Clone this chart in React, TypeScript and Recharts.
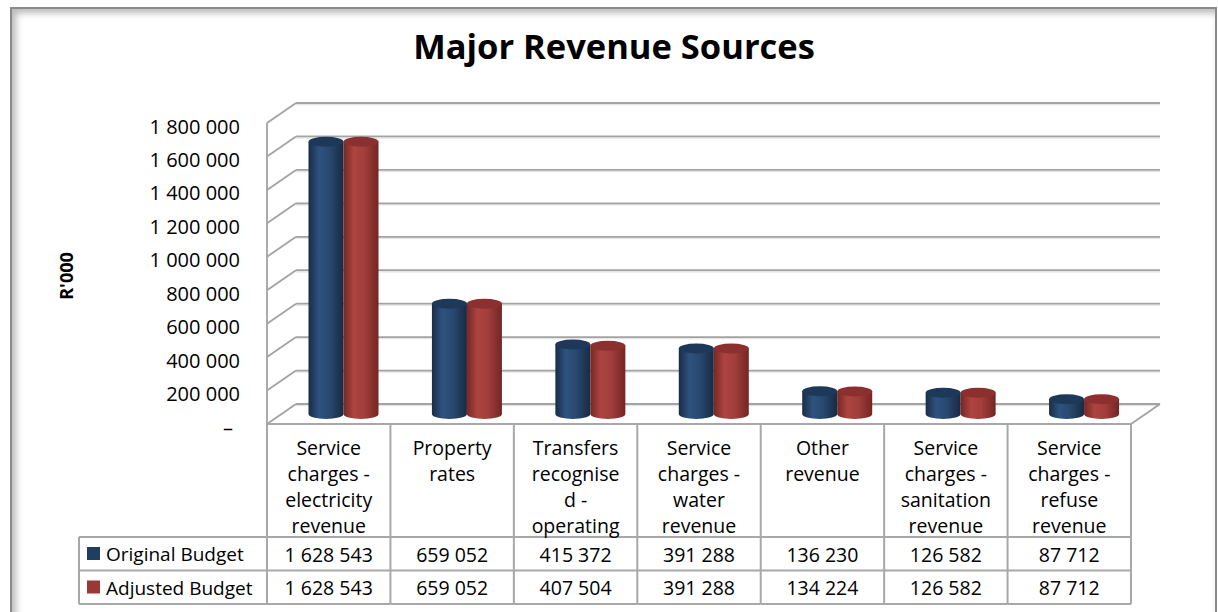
import { BarChart, Bar, XAxis, YAxis, CartesianGrid } from 'recharts';

const categories = [
    'Service charges - electricity revenue',
    'Property rates',
    'Transfers recognised - operating',
    'Service charges - water revenue',
    'Other revenue',
    'Service charges - sanitation revenue',
    'Service charges - refuse revenue',
];

// how the labels wrap inside the table header
const categoryLines = [
    ['Service', 'charges -', 'electricity', 'revenue'],
    ['Property', 'rates'],
    ['Transfers', 'recognise', 'd -', 'operating'],
    ['Service', 'charges -', 'water', 'revenue'],
    ['Other', 'revenue'],
    ['Service', 'charges -', 'sanitation', 'revenue'],
    ['Service', 'charges -', 'refuse', 'revenue'],
];

const originalBudget = [1628543, 659052, 415372, 391288, 136230, 126582, 87712];
const adjustedBudget = [1628543, 659052, 407504, 391288, 134224, 126582, 87712];
const seriesNames = ['Original Budget', 'Adjusted Budget'];
const yTicks = [0, 200000, 400000, 600000, 800000, 1000000, 1200000, 1400000, 1600000, 1800000];

const data = categories.map((c, i) => ({
    categoria: c,
    original: originalBudget[i],
    adjusted: adjustedBudget[i],
}));

const W = 1218;
const H = 612;
const PLOT_LEFT = 281.5;
const PLOT_TOP = 113;
const PLOT_W = 864;
const PLOT_H = 301;
const YAXIS_W = 60;
const XAXIS_H = 190;
const DX = 14.5; // half depth of the 3d box
const DY = 10;
const FONT = '"Open Sans", sans-serif';
const GRID = '#a3a3a3';
const TABLE = '#a8a8a8';

const fmt = (n: number) => String(n).replace(/\B(?=(\d{3})+(?!\d))/g, ' ');

const Cylinder = (props: any) => {
    const { x, y, width, height, tone } = props;
    if (width == null || height == null) return null;
    const rx = width / 2;
    const ry = 5;
    const body = `M ${x} ${y} L ${x} ${y + height} A ${rx} ${ry} 0 0 0 ${x + width} ${y + height} L ${x + width} ${y} Z`;
    return (
        <g>
            <path d={body} fill={`url(#body-${tone})`} />
            <ellipse cx={x + rx} cy={y} rx={rx} ry={ry} fill={tone === 'blue' ? '#1e3859' : '#8b302e'} />
        </g>
    );
};

const HLine = (p: any) => {
    const { x1, x2, y1 } = p;
    const isFloor = Math.abs(y1 - (PLOT_TOP + PLOT_H)) < 1;
    const s = { stroke: GRID, strokeWidth: 1.8 };
    return (
        <g key={p.key}>
            <line x1={x1 + DX} y1={y1 - DY + 1.5} x2={x2 + DX} y2={y1 - DY + 1.5} stroke="#e6e6e6" strokeWidth={1.5} />
            <line x1={x1 + DX} y1={y1 - DY} x2={x2 + DX} y2={y1 - DY} {...s} />
            <line x1={x1 - DX} y1={y1 + DY} x2={x1 + DX} y2={y1 - DY} {...s} />
            {isFloor && (
                <>
                    <line x1={x1 - DX} y1={y1 + DY} x2={x2 - DX} y2={y1 + DY} stroke={TABLE} strokeWidth={2} />
                    <line x1={x2 - DX} y1={y1 + DY} x2={x2 + DX} y2={y1 - DY} {...s} />
                </>
            )}
        </g>
    );
};

const VLine = (p: any) => (
    <line key={p.key} x1={p.x1 - DX} y1={p.y1 + DY} x2={p.x1 - DX} y2={p.y2 + DY} stroke={GRID} strokeWidth={1.8} />
);

const YTick = (p: any) => {
    const { x, y, payload } = p;
    const v = payload.value;
    return (
        <text x={v === 0 ? x - 48.5 : x - 41.5} y={y + DY + 3} textAnchor="end" dominantBaseline="central"
            fontSize={20} fontFamily={FONT} fill="#000">
            {v === 0 ? '–' : fmt(v)}
        </text>
    );
};

const TableTick = (p: any) => {
    const { x, y, payload } = p;
    const i = payload.index;
    const colW = PLOT_W / categories.length;
    const cx = x - DX;
    const left = cx - colW / 2;
    const right = cx + colW / 2;
    const top = y + DY;
    const hdrBottom = top + 113;
    const row1 = hdrBottom + 33.5;
    const row2 = row1 + 33.5;
    const legLeft = 79;
    const txt = { fontSize: 19.5, fontFamily: FONT, fill: '#000', dominantBaseline: 'central' as const };
    return (
        <g>
            {i === 0 && (
                <>
                    <line x1={left} y1={top} x2={left} y2={row2} stroke={TABLE} strokeWidth={2} />
                    <line x1={legLeft} y1={hdrBottom} x2={legLeft} y2={row2} stroke={TABLE} strokeWidth={2} />
                    <line x1={legLeft} y1={hdrBottom} x2={left} y2={hdrBottom} stroke={TABLE} strokeWidth={2} />
                    <line x1={legLeft} y1={row1} x2={left} y2={row1} stroke={TABLE} strokeWidth={2} />
                    <line x1={legLeft} y1={row2} x2={left} y2={row2} stroke={TABLE} strokeWidth={2} />
                    <rect x={legLeft + 8} y={hdrBottom + 10} width={13} height={13} fill="#203d62" />
                    <rect x={legLeft + 8} y={row1 + 10} width={13} height={13} fill="#9a3835" />
                    <text x={legLeft + 27} y={hdrBottom + 17} {...txt} fontSize={19}>{seriesNames[0]}</text>
                    <text x={legLeft + 27} y={row1 + 17} {...txt} fontSize={19}>{seriesNames[1]}</text>
                </>
            )}
            <line x1={right} y1={top} x2={right} y2={row2} stroke={TABLE} strokeWidth={2} />
            <line x1={left} y1={hdrBottom} x2={right} y2={hdrBottom} stroke={TABLE} strokeWidth={2} />
            <line x1={left} y1={row1} x2={right} y2={row1} stroke={TABLE} strokeWidth={2} />
            <line x1={left} y1={row2} x2={right} y2={row2} stroke={TABLE} strokeWidth={2} />
            {categoryLines[i].map((ln, k) => (
                <text key={k} x={cx} y={top + 23 + k * 26.3} textAnchor="middle" {...txt}>{ln}</text>
            ))}
            <text x={cx} y={hdrBottom + 17} textAnchor="middle" {...txt}>{fmt(originalBudget[i])}</text>
            <text x={cx} y={row1 + 17} textAnchor="middle" {...txt}>{fmt(adjustedBudget[i])}</text>
        </g>
    );
};

export default function App() {
    return (
        <div style={{ position: 'absolute', left: 0, top: 0, width: W, height: H, background: '#fff', overflow: 'hidden' }}>
            <div style={{
                position: 'absolute', left: 10, top: 7, width: 1203, height: 700,
                border: '2px solid #8a8a8a', boxShadow: 'inset 4px 4px 7px rgba(0,0,0,0.28)',
            }} />
            <div style={{
                position: 'absolute', left: 0, width: 1228, top: 29, textAlign: 'center',
                fontFamily: FONT, fontWeight: 700, fontSize: 34.5, lineHeight: 1, color: '#000',
            }}>
                Major Revenue Sources
            </div>
            <div style={{
                position: 'absolute', left: 66, top: 276, transform: 'translate(-50%, -50%) rotate(-90deg)',
                fontFamily: FONT, fontWeight: 700, fontSize: 18, lineHeight: 1, color: '#000', whiteSpace: 'nowrap',
            }}>
                R'000
            </div>
            <div style={{ position: 'absolute', left: 0, top: 0 }}>
                <BarChart width={W} height={H} data={data} barGap={0} barSize={35}
                    margin={{ top: PLOT_TOP, left: PLOT_LEFT - YAXIS_W, right: W - PLOT_LEFT - PLOT_W, bottom: H - PLOT_TOP - PLOT_H - XAXIS_H }}>
                    <defs>
                        <linearGradient id="body-blue" x1="0" y1="0" x2="1" y2="0">
                            <stop offset="0%" stopColor="#192c47" />
                            <stop offset="30%" stopColor="#2e527f" />
                            <stop offset="60%" stopColor="#284870" />
                            <stop offset="100%" stopColor="#182a44" />
                        </linearGradient>
                        <linearGradient id="body-red" x1="0" y1="0" x2="1" y2="0">
                            <stop offset="0%" stopColor="#762725" />
                            <stop offset="30%" stopColor="#ad4441" />
                            <stop offset="60%" stopColor="#a13e3b" />
                            <stop offset="100%" stopColor="#742523" />
                        </linearGradient>
                    </defs>
                    <CartesianGrid
                        horizontal={HLine}
                        vertical={VLine}
                        verticalCoordinatesGenerator={({ offset }: any) => [offset.left]}
                    />
                    <XAxis dataKey="categoria" type="category" height={XAXIS_H} interval={0}
                        axisLine={false} tickLine={false} tickSize={0} tickMargin={0} tick={TableTick} />
                    <YAxis type="number" domain={[0, 1800000]} ticks={yTicks} width={YAXIS_W} interval={0}
                        axisLine={false} tickLine={false} tickSize={0} tickMargin={0} tick={YTick} />
                    <Bar dataKey="original" name={seriesNames[0]} isAnimationActive={false}
                        shape={(p: any) => <Cylinder {...p} tone="blue" />} />
                    <Bar dataKey="adjusted" name={seriesNames[1]} isAnimationActive={false}
                        shape={(p: any) => <Cylinder {...p} tone="red" />} />
                </BarChart>
            </div>
        </div>
    );
}
